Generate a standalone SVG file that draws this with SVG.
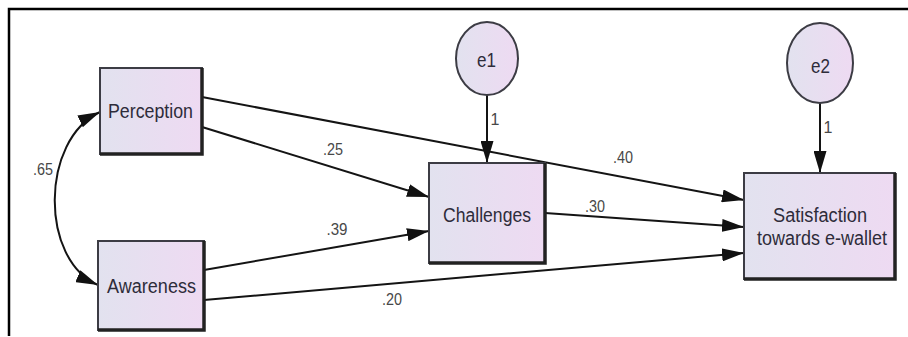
<svg xmlns="http://www.w3.org/2000/svg" width="908" height="337" viewBox="0 0 908 337">
  <defs>
    <linearGradient id="boxFill" x1="0" y1="0" x2="1" y2="0">
      <stop offset="0" stop-color="#e2e2ef"/>
      <stop offset="1" stop-color="#eedaf2"/>
    </linearGradient>
    <marker id="arrow" viewBox="0 0 22 13" refX="22" refY="6.5" markerWidth="22" markerHeight="13" markerUnits="userSpaceOnUse" orient="auto-start-reverse">
      <path d="M0,0 L22,6.5 L0,13 Z" fill="#111"/>
    </marker>
    <style>
      .box { fill: url(#boxFill); stroke: #3c3c44; stroke-width: 2; }
      .shade { fill: none; stroke: #222; stroke-width: 3.5; }
      .err { fill: url(#boxFill); stroke: #3c3c44; stroke-width: 2; }
      .label { font-family: "Liberation Sans", Arial, sans-serif; font-size: 19.5px; fill: #2e2c3a; text-anchor: middle; }
      .coef { font-family: "Liberation Sans", Arial, sans-serif; font-size: 16px; fill: #484848; text-anchor: middle; }
      .edge { fill: none; stroke: #141414; stroke-width: 2; marker-end: url(#arrow); }
      .frame { stroke: #000; stroke-width: 2.5; fill: none; }
    </style>
  </defs>

  <rect x="0" y="0" width="908" height="337" fill="#fff"/>
  <!-- frame -->
  <path class="frame" d="M9,336 V9 H908"/>

  <!-- connectors -->
  <g id="connectors">
    <path class="edge" d="M202,97 L744,200"/>
    <path class="edge" d="M202,127 L429,197"/>
    <path class="edge" d="M204,270 L429,231"/>
    <path class="edge" d="M204,300 L744,253"/>
    <path class="edge" d="M545,213 L744,227"/>
    <path class="edge" d="M487,95 L487,163"/>
    <path class="edge" d="M820,103 L820,173"/>
    <path class="edge" d="M100,112 C40,140 40,260 98,285" marker-start="url(#arrow)"/>
  </g>

  <!-- path coefficients -->
  <g id="coefficients">
    <text class="coef" x="623" y="163" textLength="20" lengthAdjust="spacingAndGlyphs">.40</text>
    <text class="coef" x="595" y="212" textLength="20" lengthAdjust="spacingAndGlyphs">.30</text>
    <text class="coef" x="333" y="155" textLength="20" lengthAdjust="spacingAndGlyphs">.25</text>
    <text class="coef" x="337" y="235" textLength="21" lengthAdjust="spacingAndGlyphs">.39</text>
    <text class="coef" x="392" y="305" textLength="20" lengthAdjust="spacingAndGlyphs">.20</text>
    <text class="coef" x="43" y="175" textLength="20" lengthAdjust="spacingAndGlyphs">.65</text>
    <text class="coef" x="495" y="125" font-size="15">1</text>
    <text class="coef" x="828" y="133" font-size="13">1</text>
  </g>

  <g id="perception">
    <rect class="box" x="100" y="68" width="102" height="86"/>
    <path class="shade" d="M100,154 H202 V68"/>
    <text class="label" x="150.5" y="118" textLength="85" lengthAdjust="spacingAndGlyphs">Perception</text>
  </g>

  <g id="awareness">
    <rect class="box" x="98" y="241" width="106" height="89"/>
    <path class="shade" d="M98,330 H204 V241"/>
    <text class="label" x="151.5" y="293" textLength="89" lengthAdjust="spacingAndGlyphs">Awareness</text>
  </g>

  <g id="challenges">
    <rect class="box" x="429" y="163" width="116" height="100"/>
    <path class="shade" d="M429,263 H545 V163"/>
    <text class="label" x="487" y="222" textLength="88" lengthAdjust="spacingAndGlyphs">Challenges</text>
  </g>

  <g id="satisfaction">
    <rect class="box" x="744" y="173" width="151" height="106"/>
    <path class="shade" d="M744,279 H895 V173"/>
    <text class="label" x="820" y="222" textLength="94" lengthAdjust="spacingAndGlyphs">Satisfaction</text>
    <text class="label" x="822" y="245" textLength="130" lengthAdjust="spacingAndGlyphs">towards e-wallet</text>
  </g>

  <g id="e1">
    <ellipse class="err" cx="487" cy="58.5" rx="31" ry="36.5"/>
    <text class="label" x="486.5" y="67" font-size="18" textLength="19" lengthAdjust="spacingAndGlyphs">e1</text>
  </g>

  <g id="e2">
    <ellipse class="err" cx="820" cy="63" rx="33" ry="40"/>
    <text class="label" x="820.5" y="73" font-size="18" textLength="19" lengthAdjust="spacingAndGlyphs">e2</text>
  </g>
</svg>
